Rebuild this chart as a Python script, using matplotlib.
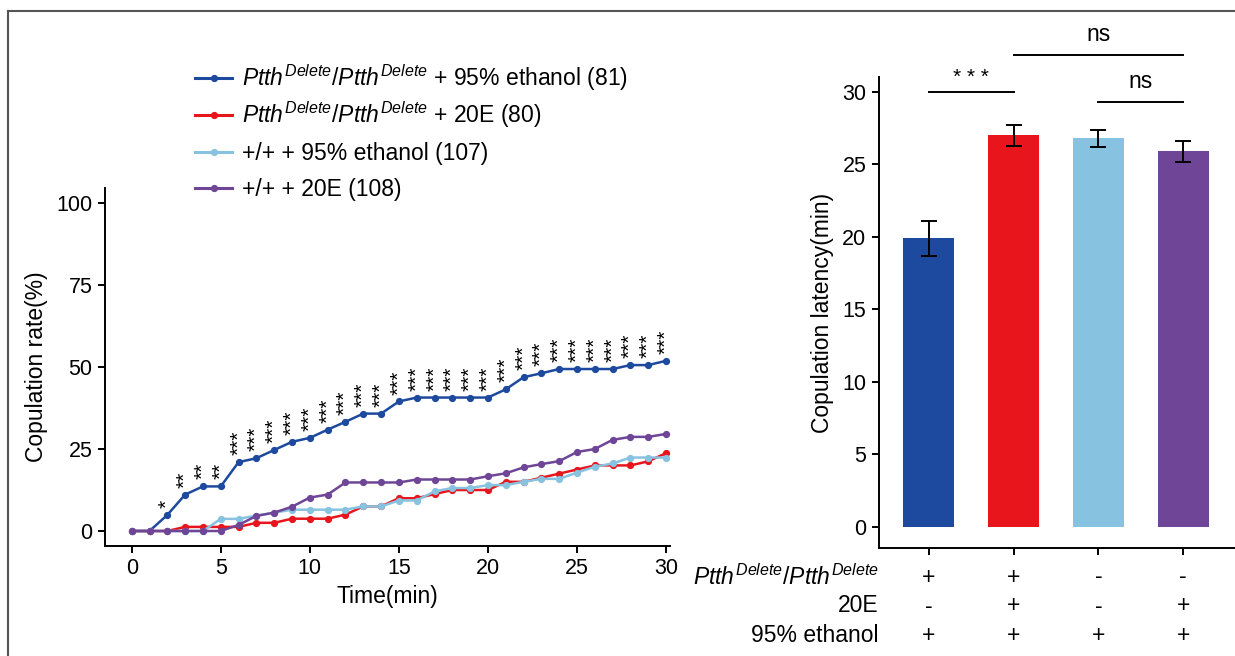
import matplotlib
matplotlib.use("Agg")
import matplotlib.pyplot as plt
import matplotlib.transforms as mtransforms
from matplotlib.lines import Line2D
import numpy as np

plt.rcParams['font.family'] = ['Liberation Sans', 'DejaVu Sans']
plt.rcParams['mathtext.fontset'] = 'custom'
plt.rcParams['mathtext.rm'] = 'Liberation Sans'
plt.rcParams['mathtext.it'] = 'Liberation Sans:italic'

# ---- data ----
time_min = list(range(31))
ptth_eth = [0, 0, 4.9, 11.1, 13.6, 13.6, 21.0, 22.2, 24.7, 27.2, 28.4, 30.9, 33.3, 35.8, 35.8,
            39.5, 40.7, 40.7, 40.7, 40.7, 40.7, 43.2, 46.9, 48.1, 49.4, 49.4, 49.4, 49.4, 50.6, 50.6, 51.9]
ptth_20e = [0, 0, 0, 1.25, 1.25, 1.25, 1.25, 2.5, 2.5, 3.75, 3.75, 3.75, 5.0, 7.5, 7.5,
            10.0, 10.0, 11.25, 12.5, 12.5, 12.5, 15.0, 15.0, 16.25, 17.5, 18.75, 20.0, 20.0, 20.0, 21.25, 23.75]
wt_eth = [0, 0, 0, 0, 0, 3.7, 3.7, 4.7, 5.6, 6.5, 6.5, 6.5, 6.5, 7.5, 7.5,
          9.3, 9.3, 12.1, 13.1, 13.1, 14.0, 14.0, 15.0, 15.9, 15.9, 17.8, 19.6, 20.6, 22.4, 22.4, 22.4]
wt_20e = [0, 0, 0, 0, 0, 0, 1.85, 4.6, 5.6, 7.4, 10.2, 11.1, 14.8, 14.8, 14.8,
          14.8, 15.7, 15.7, 15.7, 15.7, 16.7, 17.6, 19.4, 20.4, 21.3, 24.1, 25.0, 27.8, 28.7, 28.7, 29.6]
stars = [""] * 2 + ["*"] + ["**"] * 3 + ["***"] * 25

ptth = r"$Ptth^{Delete}/Ptth^{Delete}$"
series_labels = [ptth + " + 95% ethanol (81)", ptth + " + 20E (80)",
                 "+/+ + 95% ethanol (107)", "+/+ + 20E (108)"]
colors = ["#1D4A9E", "#E8161C", "#87C3E0", "#6F4597"]

latency = [19.9, 27.0, 26.8, 25.9]
latency_err = [1.2, 0.7, 0.6, 0.7]
row_names = [ptth, "20E", "95% ethanol"]
row_signs = [["+", "+", "-", "-"], ["-", "+", "-", "+"], ["+", "+", "+", "+"]]

W, H = 1235, 656
fig = plt.figure(figsize=(W / 100, H / 100), dpi=100)
FS = 16.5

# ---- left: copulation rate ----
ax = fig.add_axes([0.085, 0.1677, 0.4575, 0.5457])
for ys, c in zip([ptth_eth, ptth_20e, wt_eth, wt_20e], colors):
    ax.plot(time_min, ys, color=c, lw=1.8, marker='o', ms=4.2)
for t, y, s in zip(time_min, ptth_eth, stars):
    if s:
        ax.annotate(s, (t, y), xytext=(0, 5), textcoords='offset points',
                    rotation=90, ha='center', va='bottom', fontsize=15)
ax.set_xlim(-1.5, 30.22)
ax.set_ylim(-4.57, 104.6)
ax.set_xticks(range(0, 31, 5))
ax.set_yticks([0, 25, 50, 75, 100])
ax.set_xlabel("Time(min)", fontsize=FS, labelpad=4)
ax.set_ylabel("Copulation rate(%)", fontsize=FS, labelpad=6)
for sp in ['top', 'right']:
    ax.spines[sp].set_visible(False)
for sp in ['left', 'bottom']:
    ax.spines[sp].set_linewidth(1.4)
ax.tick_params(labelsize=15.5, width=1.4, length=5, pad=4)

# legend rows (evenly spaced, like the original)
legend_y = [78, 115, 152, 188]
for c, lab, yy in zip(colors, series_labels, legend_y):
    fy = 1 - yy / H
    fig.add_artist(Line2D([195 / W, 232 / W], [fy, fy], color=c, lw=2.2,
                          transform=fig.transFigure))
    fig.add_artist(Line2D([213.5 / W], [fy], color=c, marker='o', ms=4.2,
                          transform=fig.transFigure))
    fig.text(242 / W, 1 - (yy + 8) / H, lab, ha='left', va='baseline', fontsize=FS)

# ---- right: copulation latency ----
bx = fig.add_axes([0.7117, 0.1646, 0.2883, 0.718])
xpos = np.arange(len(latency))
bx.bar(xpos, latency, width=0.6, color=colors)
bx.errorbar(xpos, latency, yerr=latency_err, fmt='none', ecolor='black',
            elinewidth=1.4, capsize=6, capthick=1.4)
bx.set_xlim(-0.588, 3.61)
bx.set_ylim(-1.45, 31.03)
bx.set_yticks(range(0, 31, 5))
bx.set_xticks(xpos)
bx.set_xticklabels([])
bx.set_ylabel("Copulation latency(min)", fontsize=FS, labelpad=6)
for sp in ['top', 'right']:
    bx.spines[sp].set_visible(False)
for sp in ['left', 'bottom']:
    bx.spines[sp].set_linewidth(1.4)
bx.tick_params(labelsize=15.5, width=1.4, length=5, pad=4)

# significance brackets
bx.plot([0, 1], [30.0, 30.0], color='black', lw=1.4, clip_on=False)
bx.text(0.5, 30.35, "* * *", ha='center', va='bottom', fontsize=15, clip_on=False)
bx.plot([1, 3], [32.55, 32.55], color='black', lw=1.4, clip_on=False)
bx.text(2, 33.2, "ns", ha='center', va='bottom', fontsize=FS, clip_on=False)
bx.plot([2, 3], [29.3, 29.3], color='black', lw=1.4, clip_on=False)
bx.text(2.5, 29.95, "ns", ha='center', va='bottom', fontsize=FS, clip_on=False)

# treatment table under bars
trans = mtransforms.blended_transform_factory(bx.transData, fig.transFigure)
row_y = [(H - 577) / H, (H - 606) / H, (H - 636) / H]
for name, signs, yy in zip(row_names, row_signs, row_y):
    bx.text(-0.588, yy, name, transform=trans, ha='right', va='center', fontsize=FS)
    for x, s in zip(xpos, signs):
        bx.text(x, yy, s, transform=trans, ha='center', va='center', fontsize=FS)

# frame lines at top and left edges
fig.add_artist(Line2D([8 / W, 1], [1 - 11 / H, 1 - 11 / H], color='#555555', lw=1.5,
                      transform=fig.transFigure))
fig.add_artist(Line2D([8 / W, 8 / W], [0, 1 - 11 / H], color='#555555', lw=1.5,
                      transform=fig.transFigure))

fig.savefig("out.png", dpi=100)
